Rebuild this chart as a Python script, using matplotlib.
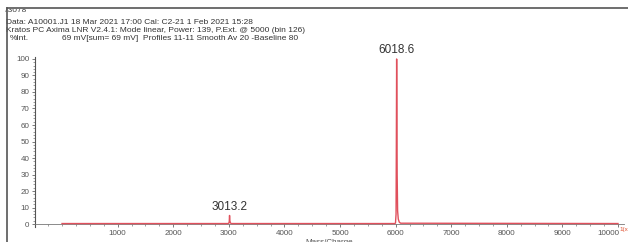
import matplotlib
matplotlib.use("Agg")
import matplotlib.pyplot as plt
import matplotlib.transforms as mtransforms
from matplotlib.lines import Line2D
from matplotlib.patches import Rectangle
from matplotlib.ticker import MultipleLocator

# spectrum (m/z, %Int)
spec_mz = [0, 2985, 3000, 3008, 3013.2, 3019, 3028, 3045, 5985, 5998, 6008, 6013,
           6018.6, 6023, 6028, 6036, 6048, 6065, 6090, 10000]
spec_int = [0.3, 0.3, 0.5, 1.5, 5.2, 2.0, 0.7, 0.3, 0.3, 0.6, 6, 45,
            100, 70, 30, 8, 3, 1.2, 0.5, 0.3]

peak_mz = [3013.2, 6018.6]
peak_int = [5.2, 100]
peak_labels = ["3013.2", "6018.6"]

header = [
    "Data: A10001.J1 18 Mar 2021 17:00 Cal: C2-21 1 Feb 2021 15:28",
    "Kratos PC Axima LNR V2.4.1: Mode linear, Power: 139, P.Ext. @ 5000 (bin 126)",
]
int_line = "69 mV[sum= 69 mV]  Profiles 11-11 Smooth Av 20 -Baseline 80"

W, H = 628, 242
plt.rcParams["font.family"] = ["Liberation Sans", "DejaVu Sans"]

fig = plt.figure(figsize=(W / 100, H / 100), dpi=100)
ax = fig.add_axes([35 / W, 0.064, 589 / W, 0.7025])

ax.plot(spec_mz, spec_int, color="#e0505c", lw=1.0, zorder=3)
for mz, it, lab in zip(peak_mz, peak_int, peak_labels):
    ax.annotate(lab, (mz, it), xytext=(0, 2), textcoords="offset points",
                ha="center", va="bottom", fontsize=8.5, color="#333333")

ax.set_xlim(-486, 10108)
ax.set_ylim(-1.5, 101.5)
ax.spines["top"].set_visible(False)
ax.spines["right"].set_visible(False)
ax.spines["bottom"].set_position(("data", 0))
ax.spines["bottom"].set_color("#777777")
ax.spines["bottom"].set_linewidth(0.6)
ax.spines["left"].set_color("#555555")
ax.spines["left"].set_linewidth(0.8)

ax.set_xticks(range(1000, 10001, 1000))
ax.xaxis.set_minor_locator(MultipleLocator(250))
ax.set_yticks(range(0, 101, 10))
ax.yaxis.set_minor_locator(MultipleLocator(2))
ax.tick_params(axis="both", labelsize=5.8, labelcolor="#555555", color="#666666",
               width=0.6, length=2, pad=2)
ax.tick_params(axis="both", which="minor", length=1.2, width=0.5, color="#777777")
ax.set_xlabel("Mass/Charge", fontsize=5.8, color="#555555", labelpad=2)

# last x label sits a bit left of its tick, before the unit text
last = ax.get_xticklabels()[-1]
last.set_transform(last.get_transform() + mtransforms.ScaledTranslation(-10 / 100, 0, fig.dpi_scale_trans))

# header block
fig.text(4 / W, 1 - 10 / H, "73078", fontsize=6.0, color="#444444", va="center")
fig.add_artist(Rectangle((0, 1 - 8.5 / H), 1, 8.5 / H, transform=fig.transFigure,
                         facecolor="white", edgecolor="none", zorder=5))
for i, line in enumerate(header):
    fig.text(6 / W, 1 - (23 + 8 * i) / H, line, fontsize=6.0, color="#333333", va="center")
fig.text(10 / W, 1 - 39 / H, "%Int.", fontsize=6.0, color="#333333", va="center")
fig.text(62 / W, 1 - 39 / H, int_line, fontsize=6.0, color="#333333", va="center")
fig.text(619 / W, 1 - 229 / H, "1(x", fontsize=4.5, color="#e05030", va="center")

# frame
fig.add_artist(Line2D([7 / W, 1], [1 - 8 / H, 1 - 8 / H], color="#555555", lw=1.2, zorder=6))
fig.add_artist(Line2D([7 / W, 7 / W], [0, 1 - 8 / H], color="#555555", lw=1.2, zorder=6))

fig.savefig("out.png", dpi=100)
